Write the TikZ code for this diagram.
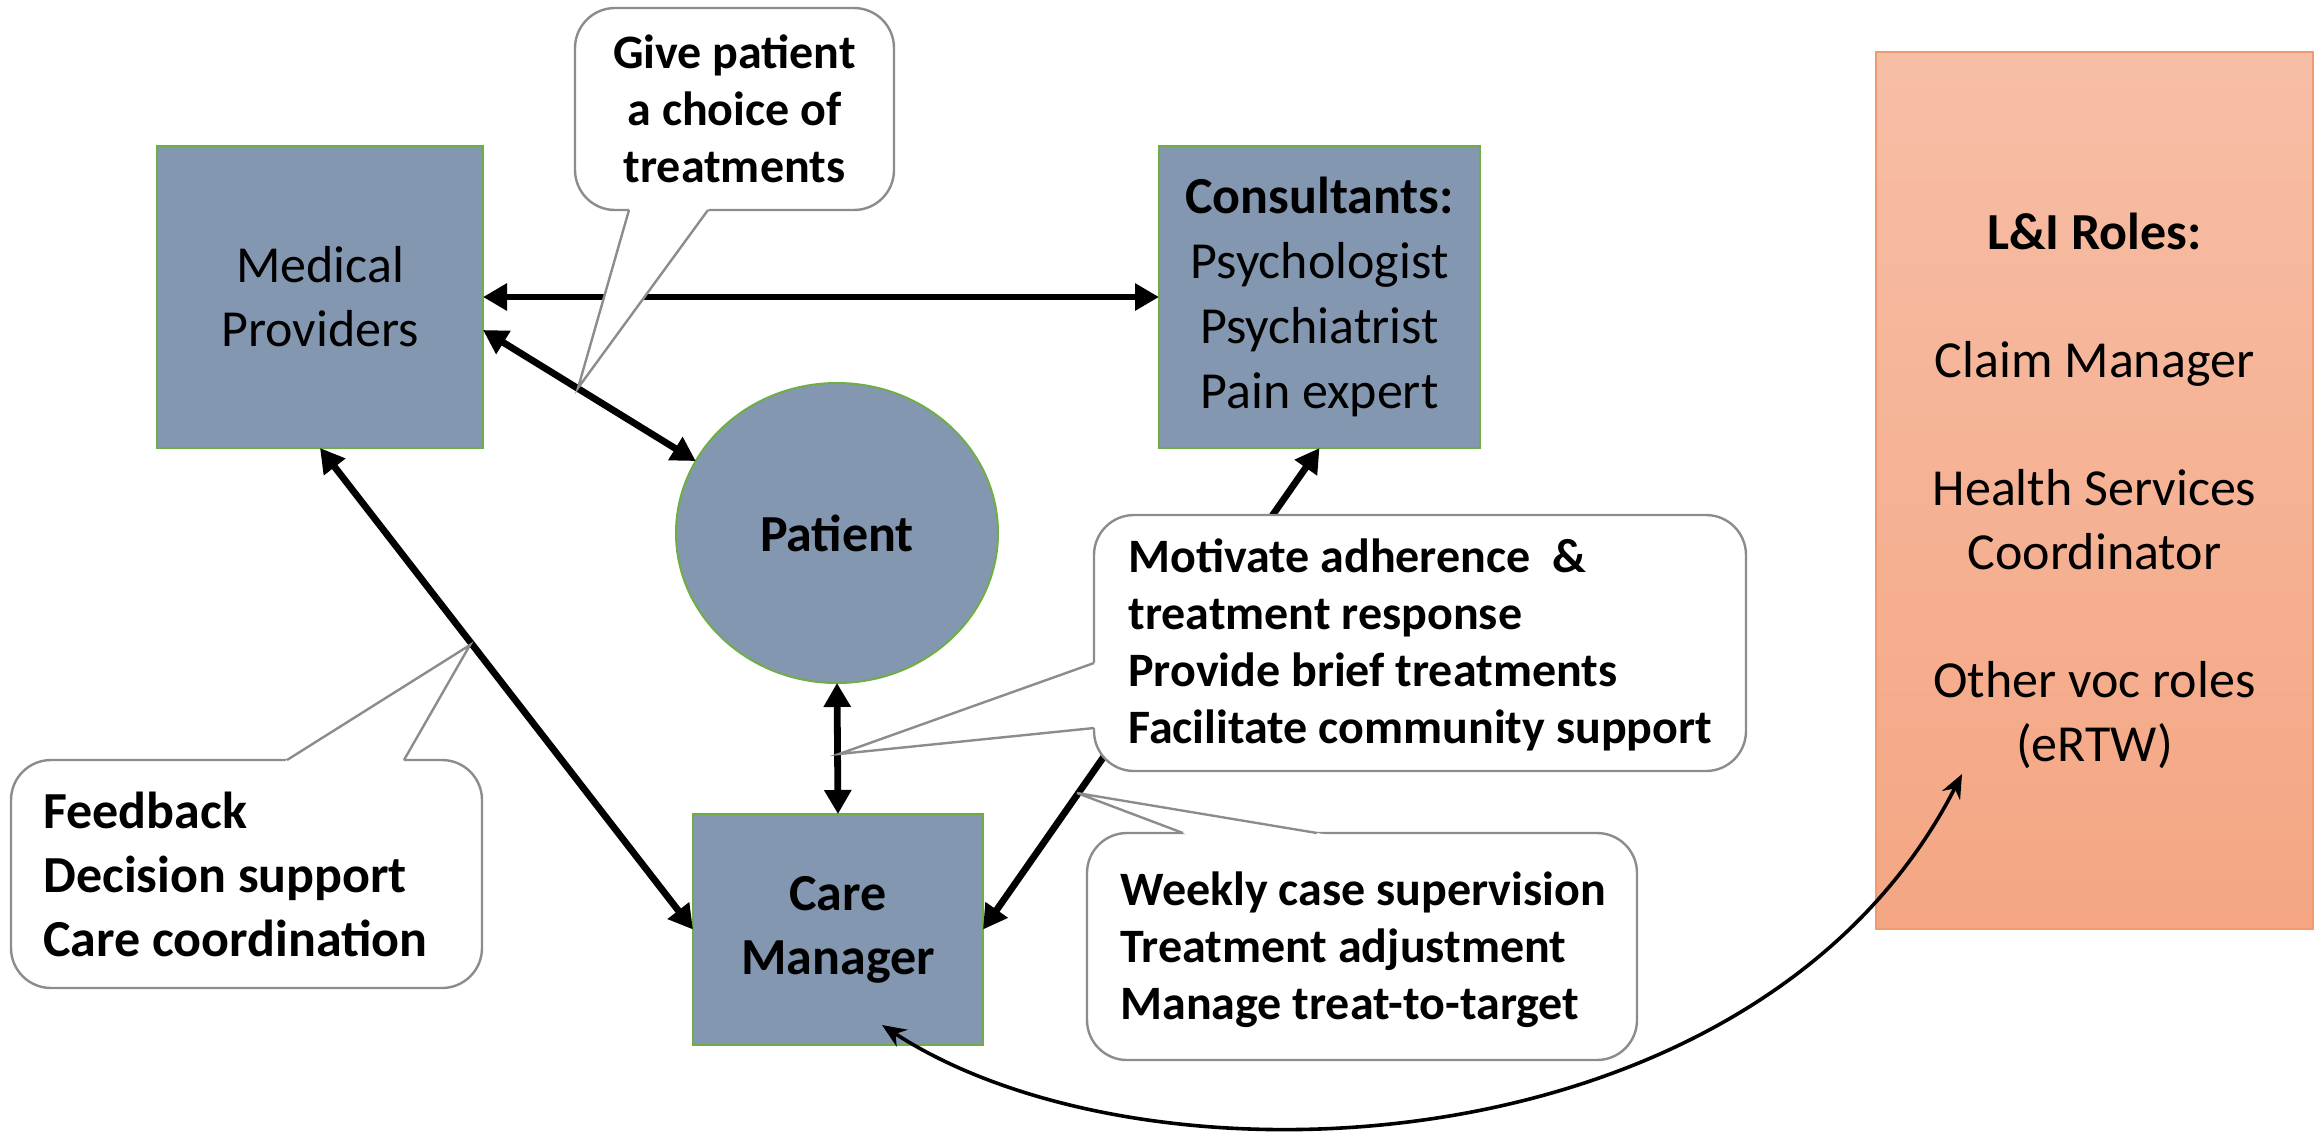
\documentclass[tikz,border=0pt]{standalone}
\usepackage{fontspec}
\setmainfont{Carlito}
\usetikzlibrary{arrows.meta,shapes.geometric,calc}
\definecolor{boxfill}{HTML}{8497B0}
\definecolor{boxline}{HTML}{70AD47}
\definecolor{lnitop}{HTML}{F7BEA6}
\definecolor{lnibot}{HTML}{F4A683}
\definecolor{lniline}{HTML}{F19B6C}
\definecolor{calline}{HTML}{8C8C8C}
\begin{document}
\begin{tikzpicture}[x=0.5pt,y=-0.5pt,
  bluebox/.style={draw=boxline, line width=1pt, fill=boxfill, inner sep=0pt, outer sep=0pt, align=center, font=\fontsize{26}{32}\selectfont},
  callbox/.style={draw=calline, line width=1.2pt, fill=white, rounded corners=20pt, inner sep=0pt, outer sep=0pt},
  callside/.style={draw=calline, line width=1.2pt, line join=miter},
  bigarrow/.style={line width=3.4pt, {Triangle[length=12pt,width=13pt]}-{Triangle[length=12pt,width=13pt]}},
  thinarrow/.style={line width=1.8pt, {Stealth[length=12pt,width=10pt]}-{Stealth[length=12pt,width=10pt]}},
  smalltext/.style={inner sep=0pt, font=\bfseries\fontsize{24}{28.5}\selectfont},
  bigtext/.style={inner sep=0pt, font=\bfseries\fontsize{26}{32}\selectfont}
]
\useasboundingbox (0,0) rectangle (2318,1132);

% main boxes
\node[bluebox, minimum width=163pt, minimum height=151pt] (mp) at (320,297) {Medical\\Providers};
\node[bluebox, minimum width=160.5pt, minimum height=151pt, font=\fontsize{26}{32.5}\selectfont] (con) at (1319.5,297) {\textbf{Consultants:}\\Psychologist\\Psychiatrist\\Pain expert};
\node[bluebox, ellipse, minimum width=161pt, minimum height=150pt, font=\bfseries\fontsize{26}{32}\selectfont] (pat) at (837,533) {Patient};
\node[bluebox, minimum width=145pt, minimum height=115.5pt, font=\bfseries\fontsize{26}{32}\selectfont] (cm) at (838,929.5) {\raisebox{-2pt}{Care}\\\raisebox{-2pt}{Manager}};
\node[draw=lniline, line width=1pt, top color=lnitop, bottom color=lnibot, minimum width=218.5pt, minimum height=438.5pt, inner sep=0pt, outer sep=0pt, align=center, font=\fontsize{26}{32}\selectfont] (lni) at (2094.5,490.5) {\textbf{L\&I Roles:}\\[32pt]Claim Manager\\[32pt]Health Services\\Coordinator\\[32pt]Other voc roles\\(eRTW)};

% connectors
\draw[bigarrow] (mp.east) -- (con.west);
\draw[bigarrow] ($(mp.east)+(0,33)$) -- (pat.153);
\draw[bigarrow] (mp.south) -- (cm.west);
\draw[bigarrow] (pat.south) -- (cm.north);
\draw[bigarrow] (cm.east) -- (con.south);
\coordinate (lniEnd) at ($(lni.south west)+(86,-155)$);
\coordinate (cmEnd) at ($(cm.south)+(44,-20)$);
\draw[thinarrow] (cmEnd) .. controls (1150,1200) and (1760,1170) .. (lniEnd);

% callout 1: Give patient
\node[callbox, minimum width=159.5pt, minimum height=101pt] (c1) at (734.5,109) {};
\coordinate (c1a) at (629,210);
\coordinate (c1b) at (708,210);
\coordinate (c1t) at (578,388);
\fill[white] ($(c1t)!1.06!(c1a)$) -- (c1t) -- ($(c1t)!1.06!(c1b)$) -- cycle;
\draw[callside] (c1a) -- (c1t) -- (c1b);
\node[smalltext, align=center] (c1txt) at (c1.center) {Give patient\\a choice of\\treatments};

% callout 2: Feedback
\node[callbox, minimum width=235.5pt, minimum height=114pt] (c2) at (246.5,874) {};
\coordinate (c2a) at (287,760);
\coordinate (c2b) at (404,760);
\coordinate (c2t) at (470,645);
\fill[white] ($(c2t)!1.06!(c2a)$) -- (c2t) -- ($(c2t)!1.06!(c2b)$) -- cycle;
\draw[callside] (c2a) -- (c2t) -- (c2b);
\node[bigtext, align=left, anchor=west] (c2txt) at ($(c2.west)+(32,0)$) {Feedback\\Decision support\\Care coordination};

% callout 3: Motivate
\node[callbox, minimum width=326pt, minimum height=128pt] (c3) at (1420,643) {};
\coordinate (c3a) at (1094,663);
\coordinate (c3b) at (1094,728);
\coordinate (c3t) at (839,754);
\fill[white] ($(c3t)!1.04!(c3a)$) -- (c3t) -- ($(c3t)!1.04!(c3b)$) -- cycle;
\draw[callside] (c3a) -- (c3t) -- (c3b);
\node[smalltext, align=left, anchor=west] (c3txt) at ($(c3.west)+(34,2)$) {Motivate adherence\ \ \&\\treatment response\\Provide brief treatments\\Facilitate community support};

% callout 4: Weekly
\node[callbox, minimum width=275pt, minimum height=113.5pt] (c4) at (1362,946.5) {};
\coordinate (c4a) at (1183,833);
\coordinate (c4b) at (1317,833);
\coordinate (c4t) at (1077,793);
\fill[white] ($(c4t)!1.06!(c4a)$) -- (c4t) -- ($(c4t)!1.06!(c4b)$) -- cycle;
\draw[callside] (c4a) -- (c4t) -- (c4b);
\node[smalltext, align=left, anchor=west] (c4txt) at ($(c4.west)+(33,3)$) {Weekly case supervision\\Treatment adjustment\\Manage treat-to-target};
\end{tikzpicture}
\end{document}
